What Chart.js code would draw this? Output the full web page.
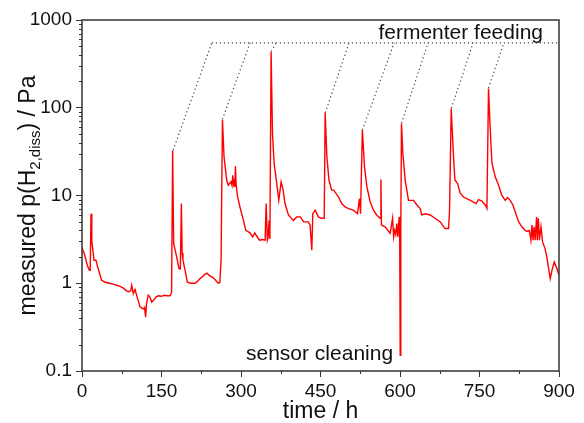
<!DOCTYPE html>
<html>
<head>
<meta charset="utf-8">
<script src="https://cdn.jsdelivr.net/npm/chart.js@4"></script>
<style>
  html, body { margin: 0; padding: 0; background: #fff; }
</style>
</head>
<body>
<canvas id="c" width="584" height="423"></canvas>
<script>
// measured trace
const timeH = [0, 5, 10, 13.8, 15.5, 17, 18.5, 19.5, 22.6, 26.4, 30, 37, 45, 52.9, 60, 65, 71.7, 78, 84, 88,
  92, 93.8, 96.9, 100, 104, 109.5, 113, 115.8, 118, 120, 121.8, 125, 128, 131.5, 136, 140, 144, 150, 155, 160,
  166, 169, 171, 173, 178.7, 183, 185.5, 187.5, 189, 190.5, 194.4, 198.8, 205, 213, 218, 222.8, 228, 232, 236, 240,
  245, 250, 257, 260, 262.4, 265, 268, 273, 276, 281, 283, 284.5, 286, 287, 288.5, 289.5, 290.7, 293, 298, 304.6,
  309, 317, 322, 326, 329, 334.8, 340, 345.5, 347.4, 349.7, 351, 353, 354.5, 356.8, 359.4, 362.5, 367.5, 371.3, 375.7, 379,
  383, 389.5, 399, 405, 412, 418, 427, 430.4, 433.6, 435.5, 440, 446, 452, 457, 458.8, 462, 466, 471, 475, 484,
  490, 496.5, 502.8, 512, 519.8, 523.5, 525.5, 529, 533, 537.5, 543.7, 550, 556, 562.5, 564, 565, 572, 581.5, 586, 588,
  590, 592, 594, 596, 598.5, 599.5, 600.4, 601.5, 602.8, 605.4, 609.8, 616, 625.5, 631.9, 638, 641, 648, 657, 666, 676,
  685, 691.6, 693.5, 696.6, 701, 703.6, 708.6, 713.6, 719.8, 732.5, 738.6, 743.8, 748, 754, 760.8, 764, 767, 770, 773.5, 779.7,
  786, 792, 798.6, 803, 808, 813, 817.5, 824, 830, 836, 840, 844, 847, 849, 851, 853, 855, 857.7, 859, 861,
  863, 866, 869, 873.5, 877, 880, 883.5, 886.8, 891, 896, 900];
const pH2 = [2.55, 2.1, 1.6, 1.41, 1.4, 6.2, 3.0, 2.7, 1.83, 1.83, 1.5, 1.08, 1.02, 1.0, 0.97, 0.95, 0.92, 0.88, 0.82, 0.8,
  0.82, 0.95, 0.76, 0.85, 0.70, 0.54, 0.52, 0.51, 0.53, 0.41, 0.59, 0.73, 0.70, 0.61, 0.65, 0.70, 0.72, 0.71, 0.73, 0.72,
  0.72, 0.78, 32.5, 2.84, 1.99, 1.47, 1.45, 8.1, 2.2, 1.83, 1.41, 1.03, 1.0, 1.0, 1.05, 1.13, 1.2, 1.27, 1.3, 1.23,
  1.18, 1.12, 1.0, 1.02, 1.83, 73, 27.6, 15, 13.1, 14.3, 13.0, 17, 13.5, 14.3, 12.5, 21.6, 13.7, 10.1, 7.4, 5.2,
  4.0, 3.75, 3.37, 3.75, 3.5, 3.1, 3.15, 3.1, 8.1, 3.1, 3.3, 5.2, 3.2, 435, 51, 23.3, 13.7, 8.8, 14.3, 12,
  8.1, 6.0, 5.2, 5.7, 5.7, 5.0, 5.0, 4.6, 2.38, 6.2, 6.8, 5.7, 5.5, 5.5, 88, 27.6, 15, 11.5, 11.5, 9.6,
  8.1, 7.4, 7.1, 6.8, 6.2, 9.2, 6.2, 55.6, 21.2, 12.6, 8.5, 6.8, 6.0, 5.5, 15.2, 4.6, 4.4, 3.7, 5.5, 3.37,
  4.0, 3.6, 4.8, 3.4, 5.7, 3.0, 0.151, 4.0, 66, 30, 15, 8.8, 8.8, 7.8, 7.1, 6.0, 6.2, 6.0, 5.5, 5.0,
  4.2, 4.2, 6.8, 98, 27.6, 15, 13.7, 10.6, 9.6, 8.8, 8.4, 8.1, 9.0, 8.7, 7.8, 7.1, 166, 60.6, 23.3, 16.3,
  13.1, 10.1, 8.8, 9.5, 8.8, 7.8, 6.5, 5.0, 4.4, 4.0, 3.9, 4.0, 3.1, 4.6, 3.1, 4.4, 3.1, 5.7, 3.1, 5.5,
  3.1, 4.4, 2.96, 2.5, 2.0, 1.53, 1.13, 1.41, 1.75, 1.47, 1.23];

// fermenter feeding markers: peak -> label line
const feedT = [172, 265, 357, 459, 529, 603, 697, 767];
const feedV = [33, 74, 440, 88, 56, 67, 99, 168];
const feedTopT = [245, 317, 366, 504, 589, 653, 738, 796];
const feedLevel = 550;

const xTicks = [0, 150, 300, 450, 600, 750, 900];
const xTickLabels = ['0', '150', '300', '450', '600', '750', '900'];
const yTicks = [0.1, 1, 10, 100, 1000];
const yTickLabels = ['0.1', '1', '10', '100', '1000'];

const FONT = "'Liberation Sans', Arial, sans-serif";
const AXIS = '#333';

const datasets = [{
  data: timeH.map((t, i) => ({ x: t, y: pH2[i] })),
  borderColor: '#ff0000',
  borderWidth: 1.4,
  pointRadius: 0,
  tension: 0
}];
feedT.forEach((t, i) => {
  datasets.push({
    data: [{ x: t, y: feedV[i] }, { x: feedTopT[i], y: feedLevel }],
    borderColor: '#444', borderWidth: 1.2, borderDash: [1.2, 2.8], pointRadius: 0
  });
});
datasets.push({
  data: [{ x: feedTopT[0], y: feedLevel }, { x: 900, y: feedLevel }],
  borderColor: '#444', borderWidth: 1.2, borderDash: [1.2, 2.8], pointRadius: 0
});

// minor ticks, frame, labels and the y title with subscript
const extras = {
  id: 'extras',
  afterDraw(chart) {
    const { ctx, chartArea: a, scales: { x, y } } = chart;
    ctx.save();
    ctx.strokeStyle = AXIS;
    ctx.lineWidth = 1;
    ctx.beginPath();
    for (let d = 0; d < yTicks.length - 1; d++) {
      for (let k = 2; k <= 9; k++) {
        const py = Math.round(y.getPixelForValue(yTicks[d] * k)) + 0.5;
        ctx.moveTo(a.left, py); ctx.lineTo(a.left - 3, py);
      }
    }
    for (let i = 0; i < xTicks.length - 1; i++) {
      const px = Math.round(x.getPixelForValue((xTicks[i] + xTicks[i + 1]) / 2)) + 0.5;
      ctx.moveTo(px, a.bottom); ctx.lineTo(px, a.bottom + 3);
    }
    ctx.stroke();

    ctx.lineWidth = 1.5;
    ctx.strokeRect(a.left, a.top, a.right - a.left, a.bottom - a.top);

    ctx.fillStyle = '#111';
    ctx.font = '21px ' + FONT;
    ctx.textBaseline = 'alphabetic';
    ctx.textAlign = 'right';
    ctx.fillText('fermenter feeding', 543, 39);
    ctx.textAlign = 'left';
    ctx.fillText('sensor cleaning', 246, 360);

    // x title
    ctx.font = '23px ' + FONT;
    ctx.textAlign = 'center';
    ctx.fillText('time / h', (a.left + a.right) / 2, 418);

    // y title
    const parts = [
      { t: 'measured p(H', s: 23, dy: 0 },
      { t: '2,diss', s: 15, dy: 5 },
      { t: ') / Pa', s: 23, dy: 0 }
    ];
    let total = 0;
    parts.forEach(p => { ctx.font = p.s + 'px ' + FONT; p.w = ctx.measureText(p.t).width; total += p.w; });
    ctx.translate(35, (a.top + a.bottom) / 2);
    ctx.rotate(-Math.PI / 2);
    ctx.textAlign = 'left';
    let cx = -total / 2;
    parts.forEach(p => {
      ctx.font = p.s + 'px ' + FONT;
      ctx.fillText(p.t, cx, p.dy);
      cx += p.w;
    });
    ctx.restore();
  }
};

new Chart(document.getElementById('c'), {
  type: 'line',
  data: { datasets },
  options: {
    responsive: false,
    animation: false,
    devicePixelRatio: 1,
    layout: { padding: { top: 20, right: 25, left: 0, bottom: 0 } },
    plugins: { legend: { display: false }, tooltip: { enabled: false } },
    scales: {
      x: {
        type: 'linear', min: 0, max: 900,
        afterBuildTicks: s => { s.ticks = xTicks.map(v => ({ value: v })); },
        afterFit: s => { s.height = 52; },
        border: { display: false },
        grid: { drawOnChartArea: false, color: AXIS, tickLength: 6, lineWidth: 1 },
        ticks: {
          autoSkip: false, maxRotation: 0, padding: 3, color: '#111',
          font: { family: FONT, size: 19 },
          callback: v => xTickLabels[xTicks.indexOf(v)]
        }
      },
      y: {
        type: 'logarithmic', min: 0.1, max: 1000,
        afterBuildTicks: s => { s.ticks = yTicks.map(v => ({ value: v })); },
        afterFit: s => { s.width = 82; },
        border: { display: false },
        grid: { drawOnChartArea: false, color: AXIS, tickLength: 6, lineWidth: 1 },
        ticks: {
          autoSkip: false, padding: 4, color: '#111',
          font: { family: FONT, size: 19 },
          callback: v => yTickLabels[yTicks.indexOf(v)]
        }
      }
    }
  },
  plugins: [extras]
});
</script>
</body>
</html>
